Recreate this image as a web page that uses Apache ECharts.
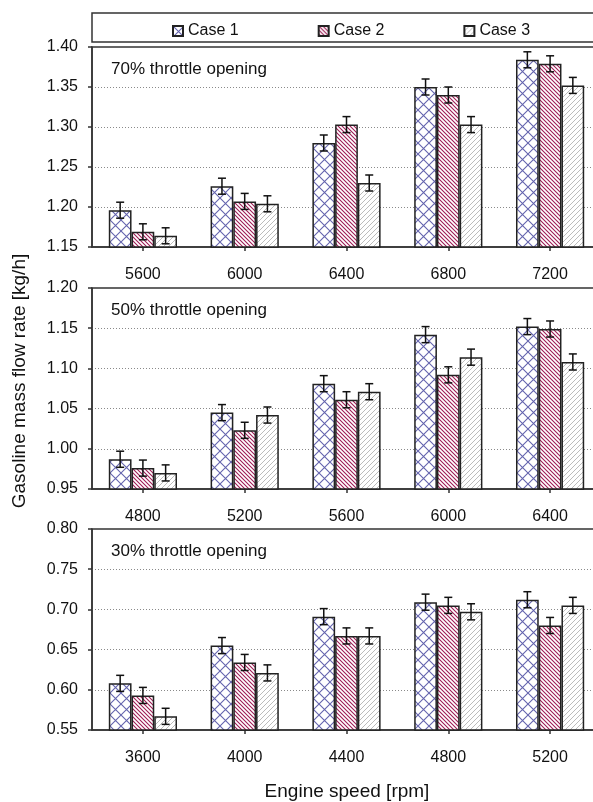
<!DOCTYPE html>
<html>
<head>
<meta charset="utf-8">
<style>
  html, body { margin: 0; padding: 0; background: #fff; overflow: hidden; width: 593px; height: 802px; }
  #chart { width: 620px; height: 802px; }
</style>
<script src="https://cdn.jsdelivr.net/npm/echarts@6/dist/echarts.min.js"></script>
</head>
<body>
<div id="chart"></div>
<script>
// Engine speeds per throttle opening [rpm]
const speeds70 = ['5600', '6000', '6400', '6800', '7200'];
const speeds50 = ['4800', '5200', '5600', '6000', '6400'];
const speeds30 = ['3600', '4000', '4400', '4800', '5200'];

// Gasoline mass flow rate [kg/h], 70% throttle
const case1At70 = [1.196, 1.226, 1.280, 1.350, 1.384];
const case2At70 = [1.169, 1.207, 1.303, 1.340, 1.379];
const case3At70 = [1.164, 1.204, 1.230, 1.303, 1.352];

// 50% throttle
const case1At50 = [0.987, 1.045, 1.081, 1.142, 1.152];
const case2At50 = [0.976, 1.023, 1.061, 1.092, 1.149];
const case3At50 = [0.970, 1.042, 1.071, 1.114, 1.108];

// 30% throttle
const case1At30 = [0.608, 0.655, 0.691, 0.709, 0.712];
const case2At30 = [0.593, 0.634, 0.667, 0.705, 0.680];
const case3At30 = [0.567, 0.621, 0.667, 0.697, 0.705];

// half-length of the error bars [kg/h]
const errorHalf = 0.01;

const caseNames = ['Case 1', 'Case 2', 'Case 3'];
const panelTitles = ['70% throttle opening', '50% throttle opening', '30% throttle opening'];
const yRanges = [[1.15, 1.40], [0.95, 1.20], [0.55, 0.80]];

const FONT = '"Liberation Sans", Arial, Helvetica, sans-serif';
const GAP = 0.33;

// hatch fills
function crossHatch(color, p, width) {
  const c = document.createElement('canvas');
  c.width = p; c.height = p;
  const g = c.getContext('2d');
  g.fillStyle = '#fff'; g.fillRect(0, 0, p, p);
  g.strokeStyle = color; g.lineWidth = width;
  g.beginPath();
  g.moveTo(0, 0); g.lineTo(p, p);
  g.moveTo(p, 0); g.lineTo(0, p);
  g.stroke();
  return c;
}
function diagHatch(color, p, width, back) {
  const c = document.createElement('canvas');
  c.width = p; c.height = p;
  const g = c.getContext('2d');
  g.fillStyle = '#fff'; g.fillRect(0, 0, p, p);
  g.strokeStyle = color; g.lineWidth = width;
  g.beginPath();
  if (back) {
    g.moveTo(-1, -1); g.lineTo(p + 1, p + 1);
    g.moveTo(-1, p - 1); g.lineTo(1, p + 1);
    g.moveTo(p - 1, -1); g.lineTo(p + 1, 1);
  } else {
    g.moveTo(-1, p + 1); g.lineTo(p + 1, -1);
    g.moveTo(-1, 1); g.lineTo(1, -1);
    g.moveTo(p - 1, p + 1); g.lineTo(p + 1, p - 1);
  }
  g.stroke();
  return c;
}
const fills = [
  { image: crossHatch('#6464ae', 11, 1.1), repeat: 'repeat' },
  { image: diagHatch('#9e1c55', 4, 1.1, true), repeat: 'repeat' },
  { image: diagHatch('#b4b4b4', 5, 0.9, false), repeat: 'repeat' }
];

const panels = [
  { cats: speeds70, vals: [case1At70, case2At70, case3At70], top: 47, height: 200 },
  { cats: speeds50, vals: [case1At50, case2At50, case3At50], top: 288, height: 201 },
  { cats: speeds30, vals: [case1At30, case2At30, case3At30], top: 529, height: 201 }
];

function renderError(params, api) {
  const ci = api.value(0), v = api.value(1), k = api.value(2);
  const band = api.size([1, 0])[0];
  const bw = band * (1 - GAP) / 3;
  const base = api.coord([ci, v]);
  const x = base[0] + (k - 1) * bw;
  const yt = api.coord([ci, v + errorHalf])[1];
  const yb = api.coord([ci, v - errorHalf])[1];
  const st = { stroke: '#111', lineWidth: 1.5 };
  return {
    type: 'group',
    children: [
      { type: 'line', shape: { x1: x, y1: yt, x2: x, y2: yb }, style: st },
      { type: 'line', shape: { x1: x - 4, y1: yt, x2: x + 4, y2: yt }, style: st },
      { type: 'line', shape: { x1: x - 4, y1: yb, x2: x + 4, y2: yb }, style: st }
    ]
  };
}

const grid = [], xAxis = [], yAxis = [], series = [], graphic = [];

panels.forEach((p, i) => {
  grid.push({
    left: 92, width: 509, top: p.top, height: p.height,
    show: true, borderColor: '#333', borderWidth: 1.5, backgroundColor: 'transparent'
  });
  xAxis.push({
    type: 'category', gridIndex: i, data: p.cats,
    axisLine: { show: true, lineStyle: { color: '#333', width: 1.5 } },
    axisTick: { show: true, alignWithLabel: true, length: 4, lineStyle: { color: '#333', width: 1.5 } },
    axisLabel: { color: '#111', fontSize: 16, fontFamily: FONT, margin: 20 },
    splitLine: { show: false }
  });
  yAxis.push({
    type: 'value', gridIndex: i, min: yRanges[i][0], max: yRanges[i][1], interval: 0.05,
    axisLine: { show: true, lineStyle: { color: '#333', width: 1.5 } },
    axisTick: { show: true, length: 4, lineStyle: { color: '#333', width: 1.5 } },
    axisLabel: { color: '#111', fontSize: 16, fontFamily: FONT, margin: 14, formatter: v => v.toFixed(2) },
    splitLine: { show: true, showMinLine: false, showMaxLine: false, lineStyle: { color: '#8a8a8a', type: [1, 2], width: 1 } }
  });
  p.vals.forEach((vals, k) => {
    series.push({
      type: 'bar', name: caseNames[k], xAxisIndex: i, yAxisIndex: i,
      data: vals, barGap: '0%', barCategoryGap: (GAP * 100) + '%',
      itemStyle: { color: fills[k], borderColor: '#222', borderWidth: 1.5 },
      emphasis: { disabled: true }, animation: false
    });
  });
  const errData = [];
  p.vals.forEach((vals, k) => vals.forEach((v, ci) => errData.push([ci, v, k])));
  series.push({
    type: 'custom', name: 'error' + i, xAxisIndex: i, yAxisIndex: i,
    renderItem: renderError, data: errData, z: 5, animation: false, silent: true
  });
  graphic.push({
    type: 'text', x: 111, y: p.top + 22,
    style: { text: panelTitles[i], font: '17px ' + FONT, fill: '#111', verticalAlign: 'middle' }
  });
});

// legend frame
graphic.push({
  type: 'rect', shape: { x: 92, y: 13, width: 540, height: 29 },
  style: { fill: 'none', stroke: '#333', lineWidth: 1.5 }
});
// axis titles
graphic.push({
  type: 'text', x: 20, y: 381, rotation: Math.PI / 2,
  style: { text: 'Gasoline mass flow rate [kg/h]', font: '19px ' + FONT, fill: '#111', align: 'center', verticalAlign: 'middle' }
});
graphic.push({
  type: 'text', x: 347, y: 792,
  style: { text: 'Engine speed [rpm]', font: '19px ' + FONT, fill: '#111', align: 'center', verticalAlign: 'middle' }
});

const chart = echarts.init(document.getElementById('chart'), null, { renderer: 'canvas' });
chart.setOption({
  animation: false,
  backgroundColor: '#fff',
  textStyle: { fontFamily: FONT },
  legend: {
    data: caseNames, left: 167, top: 18, itemWidth: 10, itemHeight: 10, itemGap: 79,
    icon: 'rect', selectedMode: false,
    textStyle: { fontSize: 16, color: '#111', fontFamily: FONT }
  },
  grid, xAxis, yAxis, series, graphic
});
</script>
</body>
</html>
